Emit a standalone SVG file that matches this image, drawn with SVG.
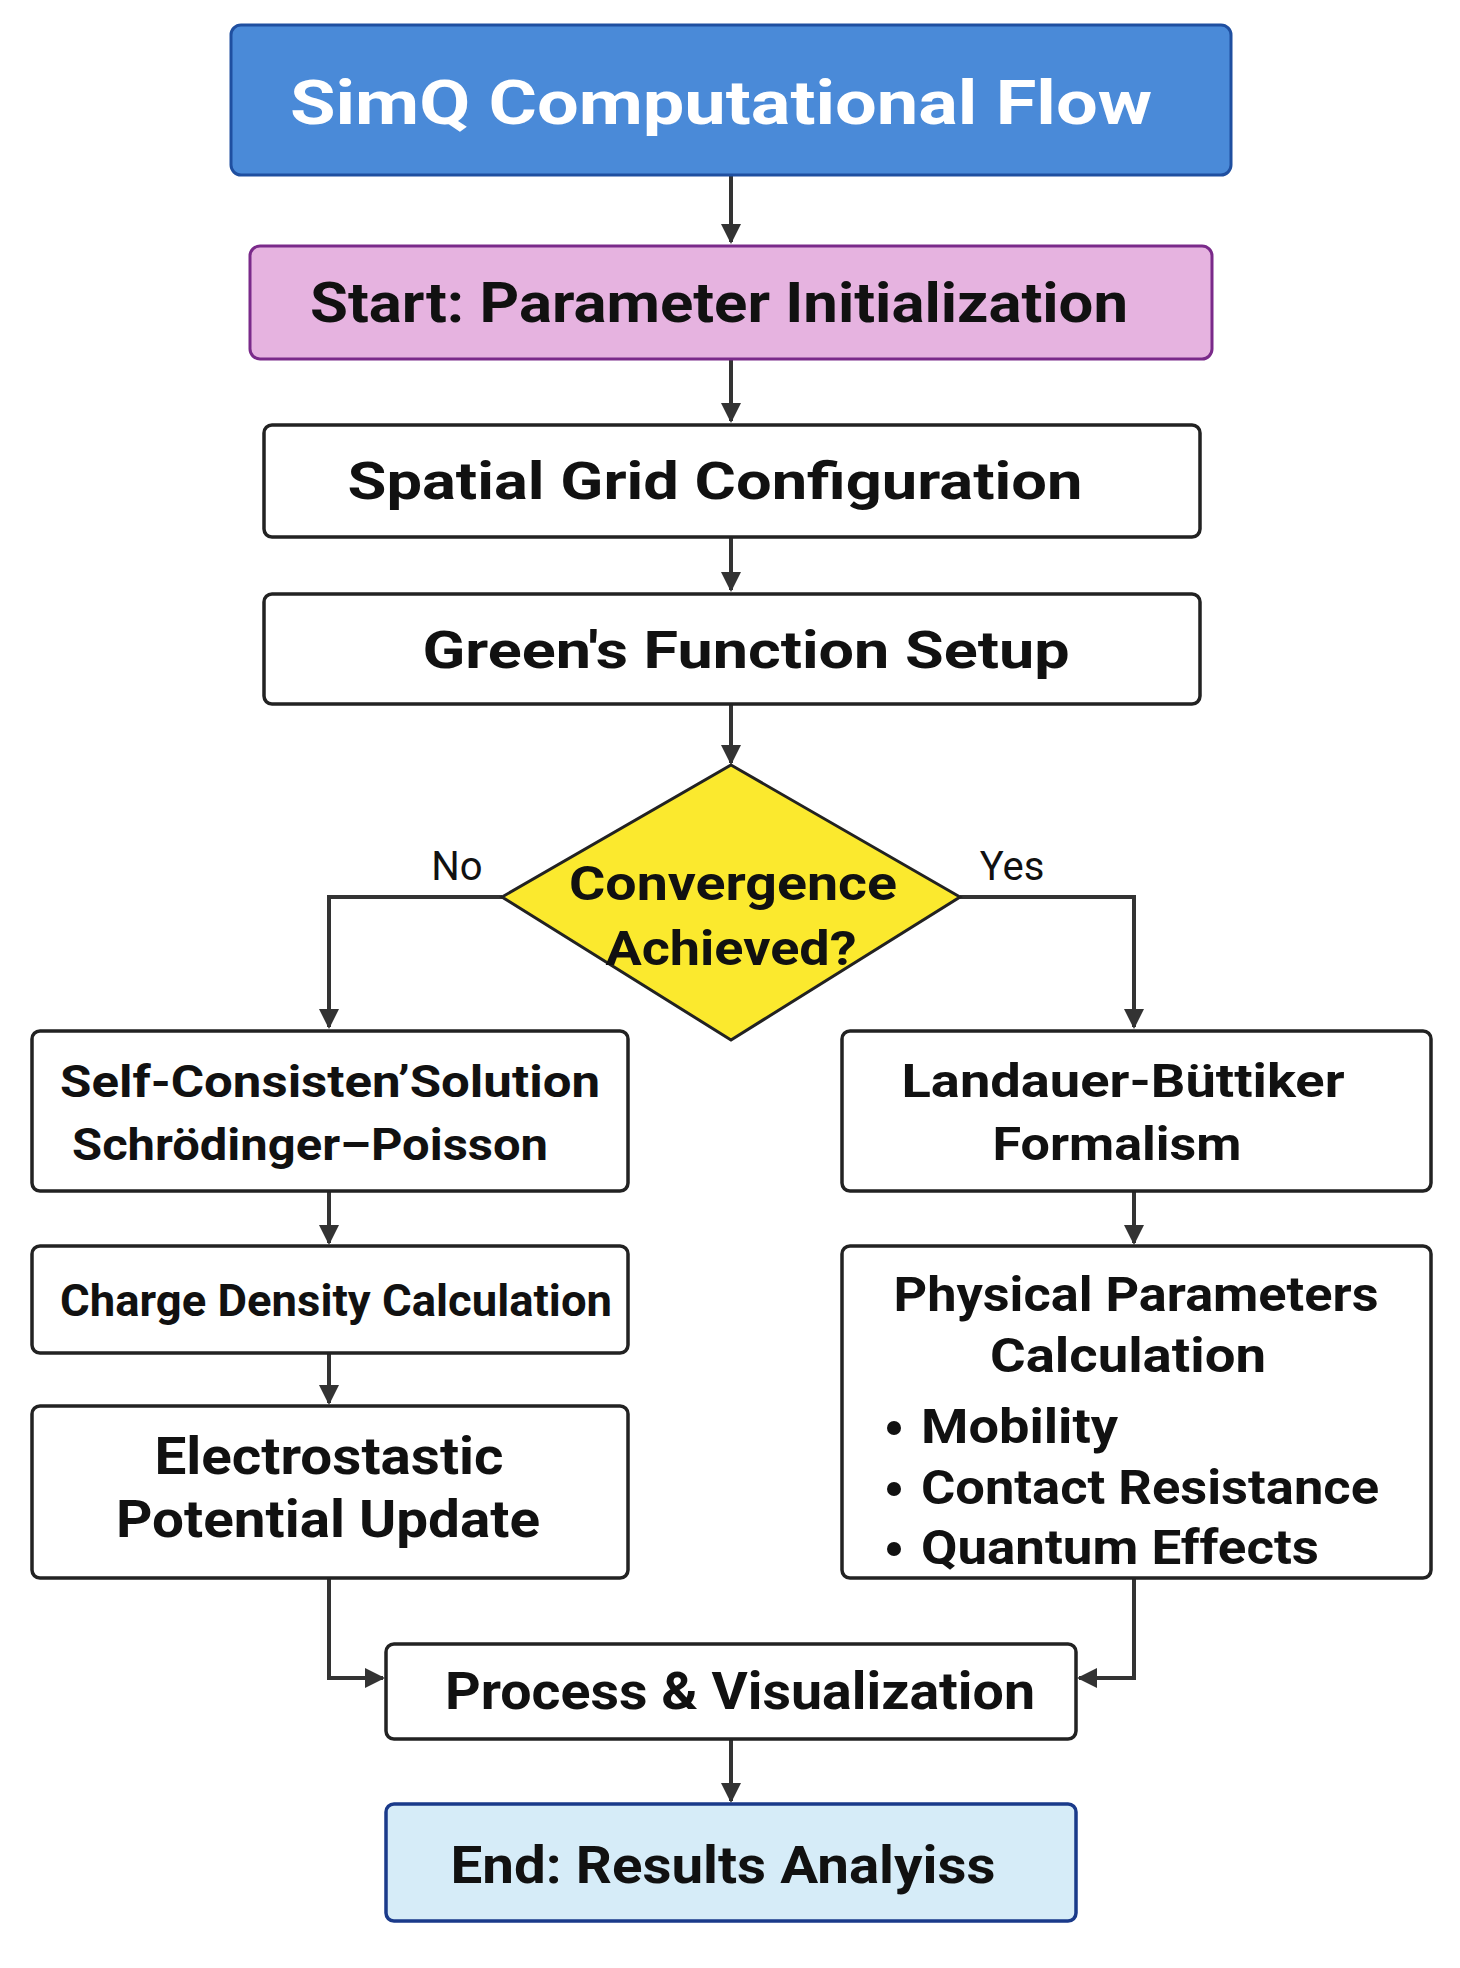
<svg xmlns="http://www.w3.org/2000/svg" width="1460" height="1968" viewBox="0 0 1460 1968">
<defs>
<marker id="ah" viewBox="0 0 10 10" refX="9" refY="5" markerWidth="5" markerHeight="5" orient="auto" markerUnits="strokeWidth"><path d="M0,0 L10,5 L0,10 z" fill="#333"/></marker>
<style>
.box{fill:#fff;stroke:#222;stroke-width:3.5}
.t{font-family:Roboto,"Liberation Sans",sans-serif;font-weight:700;fill:#111;text-anchor:middle}
.c{fill:none;stroke:#333;stroke-width:4;marker-end:url(#ah)}
.l{font-family:Roboto,"Liberation Sans",sans-serif;font-size:40px;fill:#111;text-anchor:middle}
</style>
</defs>
<rect width="1460" height="1968" fill="#fff"/>
<g id="connectors">
<path class="c" d="M731,175 V242"/>
<path class="c" d="M731,359 V421"/>
<path class="c" d="M731,537 V590"/>
<path class="c" d="M731,704 V763"/>
<path class="c" d="M502,897 H329 V1027"/>
<path class="c" d="M960,897 H1134 V1027"/>
<path class="c" d="M329,1191 V1243"/>
<path class="c" d="M329,1353 V1403"/>
<path class="c" d="M1134,1191 V1243"/>
<path class="c" d="M329,1578 V1678 H383"/>
<path class="c" d="M1134,1578 V1678 H1079"/>
<path class="c" d="M731,1739 V1801"/>
<text class="l" x="457" y="880">No</text>
<text class="l" x="1012" y="880">Yes</text>
</g>
<g id="title"><rect x="231" y="25" width="1000" height="150" rx="10" fill="#4a8ad8" stroke="#1f4fa0" stroke-width="3"/>
<text class="t" x="721" y="124" font-size="62" fill="#fff" style="fill:#fff" textLength="862" lengthAdjust="spacingAndGlyphs">SimQ Computational Flow</text></g>
<g id="start"><rect x="250" y="246" width="962" height="113" rx="10" fill="#e6b3e0" stroke="#7a2a8a" stroke-width="3"/>
<text class="t" x="719" y="322" font-size="55" textLength="818" lengthAdjust="spacingAndGlyphs">Start: Parameter Initialization</text></g>
<g id="grid"><rect class="box" x="264" y="425" width="936" height="112" rx="8"/>
<text class="t" x="715" y="499" font-size="52" textLength="735" lengthAdjust="spacingAndGlyphs">Spatial Grid Configuration</text></g>
<g id="green"><rect class="box" x="264" y="594" width="936" height="110" rx="8"/>
<text class="t" x="746" y="668" font-size="52" textLength="647" lengthAdjust="spacingAndGlyphs">Green's Function Setup</text></g>
<g id="decision"><polygon points="731,765 960,897 731,1040 502,897" fill="#fbe92e" stroke="#222" stroke-width="3"/>
<text class="t" x="733" y="900" font-size="48" textLength="328" lengthAdjust="spacingAndGlyphs">Convergence</text>
<text class="t" x="731" y="965" font-size="48" textLength="251" lengthAdjust="spacingAndGlyphs">Achieved?</text></g>
<g id="selfconsistent"><rect class="box" x="32" y="1031" width="596" height="160" rx="8"/>
<text class="t" x="330" y="1097" font-size="45" textLength="540" lengthAdjust="spacingAndGlyphs">Self-Consisten’Solution</text>
<text class="t" x="310" y="1160" font-size="45" textLength="476" lengthAdjust="spacingAndGlyphs">Schrödinger–Poisson</text></g>
<g id="charge"><rect class="box" x="32" y="1246" width="596" height="107" rx="8"/>
<text class="t" x="336" y="1316" font-size="44" textLength="552" lengthAdjust="spacingAndGlyphs">Charge Density Calculation</text></g>
<g id="electro"><rect class="box" x="32" y="1406" width="596" height="172" rx="8"/>
<text class="t" x="329" y="1474" font-size="52" textLength="349" lengthAdjust="spacingAndGlyphs">Electrostastic</text>
<text class="t" x="328" y="1537" font-size="52" textLength="424" lengthAdjust="spacingAndGlyphs">Potential Update</text></g>
<g id="landauer"><rect class="box" x="842" y="1031" width="589" height="160" rx="8"/>
<text class="t" x="1123" y="1097" font-size="47" textLength="443" lengthAdjust="spacingAndGlyphs">Landauer-Büttiker</text>
<text class="t" x="1117" y="1160" font-size="47" textLength="249" lengthAdjust="spacingAndGlyphs">Formalism</text></g>
<g id="physical"><rect class="box" x="842" y="1246" width="589" height="332" rx="8"/>
<text class="t" x="1136" y="1311" font-size="48" textLength="485" lengthAdjust="spacingAndGlyphs">Physical Parameters</text>
<text class="t" x="1128" y="1372" font-size="48" textLength="276" lengthAdjust="spacingAndGlyphs">Calculation</text>
<g font-family="Roboto,'Liberation Sans',sans-serif" font-weight="700" font-size="48" fill="#111">
<circle cx="894" cy="1428" r="7"/><text x="921" y="1443" textLength="197" lengthAdjust="spacingAndGlyphs">Mobility</text>
<circle cx="894" cy="1489" r="7"/><text x="921" y="1504" textLength="458" lengthAdjust="spacingAndGlyphs">Contact Resistance</text>
<circle cx="894" cy="1549" r="7"/><text x="921" y="1564" textLength="398" lengthAdjust="spacingAndGlyphs">Quantum Effects</text></g></g>
<g id="process"><rect class="box" x="386" y="1644" width="690" height="95" rx="8"/>
<text class="t" x="740" y="1709" font-size="52" textLength="590" lengthAdjust="spacingAndGlyphs">Process &amp; Visualization</text></g>
<g id="end"><rect x="386" y="1804" width="690" height="117" rx="8" fill="#d6ecf8" stroke="#1a3a8a" stroke-width="3.5"/>
<text class="t" x="723" y="1883" font-size="52" textLength="545" lengthAdjust="spacingAndGlyphs">End: Results Analyiss</text></g>
</svg>
